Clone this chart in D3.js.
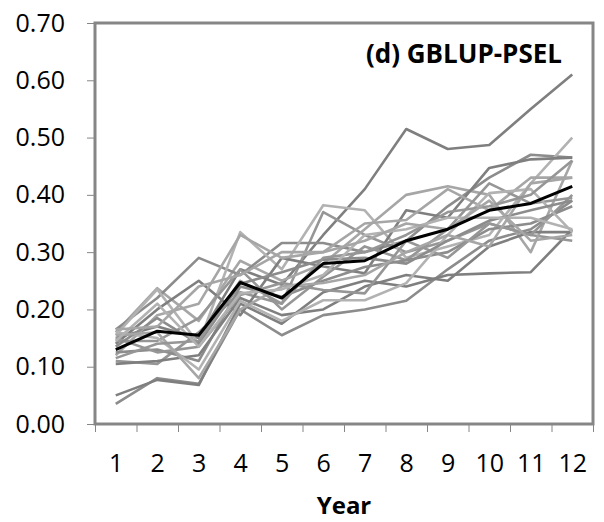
<!DOCTYPE html>
<html>
<head>
<meta charset="utf-8">
<script src="https://cdn.jsdelivr.net/npm/d3@7"></script>
<style>
  body { margin: 0; background: #fff; }
  text { font-family: "Open Sans", sans-serif; fill: #000; }
</style>
</head>
<body>
<svg id="graph" width="604" height="522"></svg>
<script>
(function() {
// years on the x axis
const years = [1, 2, 3, 4, 5, 6, 7, 8, 9, 10, 11, 12];
const yTicks = [0, 0.1, 0.2, 0.3, 0.4, 0.5, 0.6, 0.7];

// individual replicates (grey)
const rep01 = [0.150, 0.170, 0.150, 0.270, 0.243, 0.330, 0.410, 0.515, 0.480, 0.487, 0.550, 0.610];
const rep02 = [0.035, 0.080, 0.070, 0.200, 0.155, 0.190, 0.200, 0.215, 0.270, 0.320, 0.340, 0.390];
const rep03 = [0.050, 0.077, 0.068, 0.210, 0.175, 0.230, 0.250, 0.240, 0.260, 0.263, 0.265, 0.340];
const rep04 = [0.110, 0.105, 0.160, 0.230, 0.210, 0.370, 0.330, 0.300, 0.320, 0.350, 0.330, 0.320];
const rep05 = [0.160, 0.237, 0.180, 0.285, 0.250, 0.280, 0.340, 0.400, 0.415, 0.400, 0.300, 0.460];
const rep06 = [0.165, 0.220, 0.290, 0.260, 0.316, 0.316, 0.300, 0.320, 0.380, 0.430, 0.470, 0.465];
const rep07 = [0.155, 0.235, 0.140, 0.335, 0.270, 0.382, 0.373, 0.290, 0.310, 0.330, 0.420, 0.500];
const rep08 = [0.140, 0.200, 0.250, 0.190, 0.290, 0.275, 0.263, 0.373, 0.360, 0.447, 0.462, 0.465];
const rep09 = [0.120, 0.190, 0.210, 0.330, 0.290, 0.300, 0.350, 0.356, 0.410, 0.373, 0.430, 0.430];
const rep10 = [0.145, 0.145, 0.185, 0.270, 0.200, 0.257, 0.310, 0.286, 0.340, 0.420, 0.385, 0.395];
const rep11 = [0.125, 0.130, 0.110, 0.240, 0.222, 0.250, 0.274, 0.286, 0.300, 0.340, 0.350, 0.380];
const rep12 = [0.105, 0.110, 0.120, 0.220, 0.190, 0.200, 0.240, 0.260, 0.250, 0.310, 0.335, 0.335];
const rep13 = [0.150, 0.125, 0.135, 0.225, 0.246, 0.234, 0.228, 0.320, 0.290, 0.350, 0.330, 0.400];
const rep14 = [0.160, 0.150, 0.095, 0.215, 0.180, 0.216, 0.216, 0.246, 0.330, 0.403, 0.410, 0.335];
const rep15 = [0.135, 0.185, 0.140, 0.245, 0.265, 0.287, 0.290, 0.280, 0.320, 0.355, 0.373, 0.390];
const rep16 = [0.155, 0.160, 0.080, 0.200, 0.240, 0.246, 0.260, 0.300, 0.330, 0.310, 0.420, 0.430];
const rep17 = [0.115, 0.140, 0.145, 0.250, 0.210, 0.290, 0.300, 0.330, 0.370, 0.380, 0.400, 0.460];
const rep18 = [0.145, 0.210, 0.135, 0.228, 0.235, 0.260, 0.330, 0.340, 0.360, 0.360, 0.360, 0.340];
const rep19 = [0.165, 0.170, 0.240, 0.260, 0.300, 0.300, 0.320, 0.350, 0.340, 0.390, 0.320, 0.330];
// average (black)
const average = [0.130, 0.162, 0.155, 0.247, 0.220, 0.280, 0.285, 0.320, 0.340, 0.373, 0.385, 0.415];

const reps = [rep01, rep02, rep03, rep04, rep05, rep06, rep07, rep08, rep09, rep10,
              rep11, rep12, rep13, rep14, rep15, rep16, rep17, rep18, rep19];
const greys = ['#7f7f7f', '#8c8c8c', '#969696', '#a6a6a6', '#b2b2b2'];
const repGrey = [0, 1, 0, 2, 3, 1, 4, 0, 3, 2, 1, 0, 2, 4, 1, 3, 2, 4, 3];

const svg = d3.select('#graph');
const left = 95, right = 593, top = 23, bottom = 424;

const x = d3.scaleLinear().domain([0.5, 12.5]).range([left, right]);
const y = d3.scaleLinear().domain([0, 0.7]).range([bottom, top]);

// y axis
const yAxis = svg.append('g')
  .attr('transform', `translate(${left},0)`)
  .call(d3.axisLeft(y).tickValues(yTicks).tickSize(8).tickPadding(22).tickFormat(d3.format('.2f')));
yAxis.select('.domain').remove();
yAxis.selectAll('line').attr('stroke', '#868686');
yAxis.selectAll('text').style('font-size', '25px').attr('fill', '#000');

// x axis: ticks on year boundaries, labels in the middle
const xTickAxis = svg.append('g')
  .attr('transform', `translate(0,${bottom})`)
  .call(d3.axisBottom(x).tickValues(d3.range(0.5, 13, 1)).tickSize(8).tickFormat(''));
xTickAxis.select('.domain').remove();
xTickAxis.selectAll('line').attr('stroke', '#868686');

const xLabelAxis = svg.append('g')
  .attr('transform', `translate(0,${bottom})`)
  .call(d3.axisBottom(x).tickValues(years).tickSize(0).tickPadding(30).tickFormat(d3.format('d')));
xLabelAxis.select('.domain').remove();
xLabelAxis.selectAll('text').style('font-size', '25px').attr('fill', '#000');

// plot frame
svg.append('rect')
  .attr('x', left).attr('y', top)
  .attr('width', right - left).attr('height', bottom - top)
  .attr('fill', 'none')
  .attr('stroke', '#868686')
  .attr('stroke-width', 3);

const line = d3.line()
  .x((d, i) => x(years[i]))
  .y(d => y(d))
  .curve(d3.curveLinear);

svg.append('g')
  .selectAll('path')
  .data(reps)
  .enter()
  .append('path')
  .attr('d', d => line(d))
  .attr('fill', 'none')
  .attr('stroke', (d, i) => greys[repGrey[i]])
  .attr('stroke-width', 2.6)
  .attr('stroke-linejoin', 'round');

svg.append('path')
  .attr('d', line(average))
  .attr('fill', 'none')
  .attr('stroke', '#000')
  .attr('stroke-width', 3)
  .attr('stroke-linejoin', 'round');

// title and axis label
svg.append('text')
  .attr('x', 562).attr('y', 63)
  .attr('text-anchor', 'end')
  .style('font-size', '26px')
  .style('font-weight', 'bold')
  .text('(d) GBLUP-PSEL');

svg.append('text')
  .attr('x', (left + right) / 2).attr('y', 514)
  .attr('text-anchor', 'middle')
  .style('font-size', '24px')
  .style('font-weight', 'bold')
  .text('Year');
})();
</script>
</body>
</html>
